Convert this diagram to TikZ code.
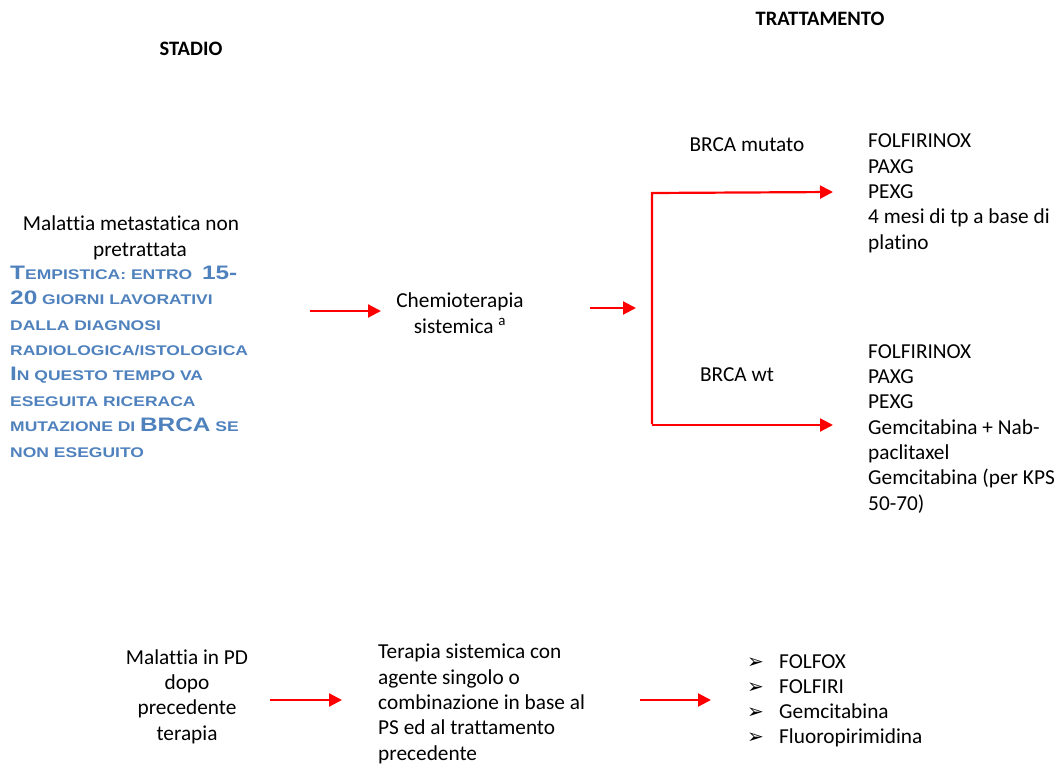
\documentclass[tikz,border=0pt]{standalone}
\usepackage{fontspec}
\setmainfont{Carlito}[Ligatures=CommonOff]
\newfontfamily\bluefont{Liberation Sans}[FakeStretch=1.25]
\newfontfamily\symfont{DejaVu Sans}
\usetikzlibrary{arrows.meta}
\definecolor{bluetxt}{RGB}{79,129,189}
\definecolor{arrowred}{RGB}{255,0,0}
\newcommand\bc[1]{{\fontsize{19.5}{25.4}\selectfont #1}}
\tikzset{
  body/.style={inner sep=0pt, font=\fontsize{21.3}{25.3}\selectfont},
  head/.style={inner sep=0pt, font=\bfseries\fontsize{20.5}{25.3}\selectfont},
  bluebody/.style={inner sep=0pt, text=bluetxt, font=\bluefont\bfseries\fontsize{14}{25.4}\selectfont},
  redline/.style={draw=arrowred, line width=2.2pt, line join=miter},
  redarrow/.style={redline, -{Triangle[length=13pt,width=13pt]}},
}
\begin{document}
\begin{tikzpicture}[x=1pt,y=-1pt]
\useasboundingbox (0,0) rectangle (1058,765);
% headers
\node[head, anchor=base] (stadio) at (191,56) {STADIO};
\node[head, anchor=base] (tratt) at (820,26) {TRATTAMENTO};
% left block (multi-line nodes: base = last line's baseline)
\node[body, anchor=base, align=center] (mal) at (131,256) {Malattia metastatica non\\\hspace*{18pt}pretrattata};
\node[bluebody, anchor=base west, align=left] (tempo) at (10,457) {\bc{T}EMPISTICA: ENTRO \ \bc{15-}\\\bc{20} GIORNI LAVORATIVI\\DALLA DIAGNOSI\\RADIOLOGICA/ISTOLOGICA\\\bc{I}N QUESTO TEMPO VA\\ESEGUITA RICERACA\\MUTAZIONE DI \bc{BRCA} SE\\NON ESEGUITO};
% chemo
\node[body, anchor=base, align=center] (chemo) at (460,333) {Chemioterapia\\sistemica \textsuperscript{a}};
% branch labels
\node[body, anchor=base] (mut) at (747,152) {BRCA mutato};
\node[body, anchor=base] (wt) at (737,381) {BRCA wt};
% treatment lists
\node[body, anchor=base west, align=left] (list1) at (868,249) {FOLFIRINOX\\PAXG\\PEXG\\4 mesi di tp a base di\\platino};
\node[body, anchor=base west, align=left] (list2) at (868,510) {FOLFIRINOX\\PAXG\\PEXG\\Gemcitabina + Nab-\\paclitaxel\\Gemcitabina (per KPS\\50-70)};
% bottom row
\node[body, anchor=base, align=center] (pd) at (187,740) {Malattia in PD\\dopo\\precedente\\terapia};
\node[body, anchor=base west, align=left] (terapia) at (378,760) {Terapia sistemica con\\agente singolo o\\combinazione in base al\\PS ed al trattamento\\precedente};
\node[body, anchor=base west, align=left, font=\symfont\fontsize{20}{25}\selectfont] (bul) at (747,743) {➢\\➢\\➢\\➢};
\node[body, anchor=base west, align=left, font=\fontsize{21.3}{25}\selectfont] (list3) at (779,743) {FOLFOX\\FOLFIRI\\Gemcitabina\\Fluoropirimidina};
% connectors
\coordinate (a1s) at (310,311);
\coordinate (a1e) at (381,311);
\coordinate (a2s) at (590,308);
\coordinate (a2e) at (636,308);
\coordinate (bt) at (652,193);
\coordinate (bb) at (652,424);
\coordinate (bbh) at (652,425);
\coordinate (mt) at (833,192);
\coordinate (wb) at (833,425);
\coordinate (a3s) at (270,700);
\coordinate (a3e) at (342,700);
\coordinate (a4s) at (640,700);
\coordinate (a4e) at (711,700);
\draw[redarrow] (a1s) -- (a1e);
\draw[redarrow] (a2s) -- (a2e);
\draw[redarrow] (bb) -- (bt) -- (mt);
\draw[redarrow] (bbh) -- (wb);
\draw[redarrow] (a3s) -- (a3e);
\draw[redarrow] (a4s) -- (a4e);
\end{tikzpicture}
\end{document}
